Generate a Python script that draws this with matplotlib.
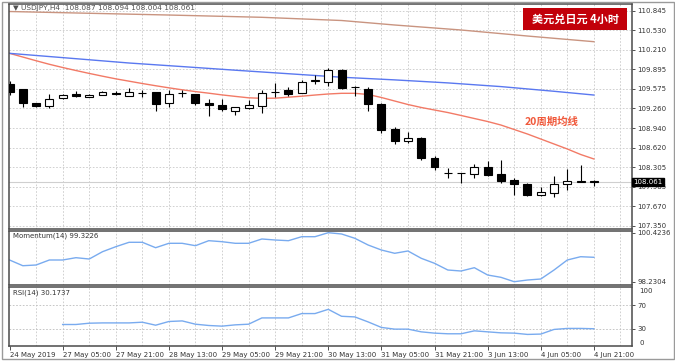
import matplotlib
matplotlib.use("Agg")
import matplotlib.pyplot as plt
from matplotlib.patches import Rectangle
import matplotlib.transforms as mtransforms
import numpy as np

plt.rcParams['font.family'] = ['DejaVu Sans']

# ---------------- data ----------------
opens = [109.65, 109.57, 109.34, 109.30, 109.42, 109.485, 109.45, 109.48, 109.515, 109.46,
         109.505, 109.52, 109.34, 109.505, 109.495, 109.34, 109.31, 109.22, 109.27, 109.30,
         109.525, 109.55, 109.515, 109.71, 109.69, 109.89, 109.605, 109.57, 109.33, 108.92,
         108.73, 108.775, 108.46, 108.205, 108.21, 108.19, 108.31, 108.19, 108.09, 108.035,
         107.85, 107.885, 108.025, 108.07, 108.087]
highs = [109.70, 109.58, 109.35, 109.495, 109.50, 109.54, 109.50, 109.535, 109.54, 109.59,
         109.55, 109.53, 109.56, 109.56, 109.50, 109.41, 109.41, 109.285, 109.40, 109.55,
         109.67, 109.61, 109.725, 109.80, 109.92, 109.90, 109.615, 109.60, 109.34, 108.96,
         108.875, 108.79, 108.48, 108.285, 108.215, 108.36, 108.405, 108.415, 108.13, 108.045,
         107.98, 108.155, 108.275, 108.34, 108.094]
lows = [109.48, 109.28, 109.28, 109.27, 109.41, 109.44, 109.44, 109.47, 109.47, 109.455,
        109.44, 109.21, 109.28, 109.44, 109.32, 109.14, 109.22, 109.15, 109.245, 109.18,
        109.44, 109.46, 109.51, 109.65, 109.615, 109.575, 109.46, 109.21, 108.865, 108.68,
        108.69, 108.42, 108.26, 108.13, 108.045, 108.13, 108.165, 108.045, 107.86, 107.83,
        107.84, 107.82, 107.94, 108.06, 108.004]
closes = [109.52, 109.34, 109.29, 109.41, 109.48, 109.465, 109.48, 109.52, 109.50, 109.52,
          109.51, 109.33, 109.495, 109.51, 109.35, 109.32, 109.245, 109.275, 109.32, 109.515,
          109.53, 109.495, 109.69, 109.715, 109.875, 109.59, 109.61, 109.33, 108.91, 108.73,
          108.785, 108.46, 108.30, 108.21, 108.205, 108.31, 108.18, 108.08, 108.035, 107.85,
          107.895, 108.025, 108.08, 108.075, 108.061]

ma20 = [110.153, 110.093, 110.033, 109.975, 109.923, 109.874, 109.827, 109.782, 109.739, 109.701,
        109.663, 109.627, 109.593, 109.561, 109.532, 109.506, 109.478, 109.454, 109.431, 109.423,
        109.425, 109.441, 109.457, 109.476, 109.493, 109.504, 109.504, 109.485, 109.436, 109.379,
        109.322, 109.274, 109.233, 109.192, 109.144, 109.095, 109.046, 108.989, 108.916, 108.843,
        108.762, 108.681, 108.600, 108.511, 108.438]

ma50_bars = [0, 5, 9, 13, 17, 21, 25, 29, 33, 37, 41, 44]
ma50 = [110.153, 110.066, 109.996, 109.938, 109.879, 109.822, 109.765, 109.722, 109.673, 109.613,
        109.537, 109.476]

ma100_bars = [0, 4, 12, 19, 25, 29, 34, 39, 44]
ma100 = [110.832, 110.813, 110.775, 110.738, 110.686, 110.613, 110.532, 110.434, 110.342]

momentum = [99.202, 98.946, 98.978, 99.202, 99.202, 99.305, 99.246, 99.573, 99.797, 99.994,
            99.994, 99.752, 99.949, 99.949, 99.842, 100.066, 100.021, 99.949, 99.949, 100.142,
            100.097, 100.066, 100.245, 100.245, 100.4236, 100.366, 100.173, 99.873, 99.649, 99.502,
            99.605, 99.278, 99.054, 98.754, 98.709, 98.857, 98.530, 98.427, 98.2304, 98.306,
            98.351, 98.754, 99.202, 99.349, 99.3226]

nan = float('nan')
rsi = [nan, nan, nan, nan, 37.4, 37.4, 39.6, 40.1, 40.1, 40.1,
       41.3, 36.2, 42.5, 43.5, 37.9, 35.7, 34.6, 36.8, 37.9, 48.6,
       48.6, 48.6, 56.0, 56.0, 63.2, 51.4, 50.3, 41.8, 32.4, 29.5,
       29.5, 24.9, 22.7, 21.6, 21.6, 26.6, 24.9, 23.2, 22.7, 20.5,
       21.1, 29.0, 30.7, 30.7, 30.17]

price_ticks = [110.845, 110.530, 110.210, 109.895, 109.575, 109.260, 108.940,
               108.620, 108.305, 107.985, 107.670, 107.350]
price_tick_labels = ["110.845", "110.530", "110.210", "109.895", "109.575", "109.260",
                     "108.940", "108.620", "108.305", "107.985", "107.670", "107.350"]

time_tick_bars = [0, 4, 8, 12, 16, 20, 24, 28, 32, 36, 40, 44]
time_tick_labels = ["24 May 2019", "27 May 05:00", "27 May 21:00", "28 May 13:00",
                    "29 May 05:00", "29 May 21:00", "30 May 13:00", "31 May 05:00",
                    "31 May 21:00", "3 Jun 13:00", "4 Jun 05:00", "4 Jun 21:00"]

last_price = 108.061
title_text = "\u25BC USDJPY,H4  108.087 108.094 108.004 108.061"
box_title = "美元兑日元 4小时"
ma_label = "20周期均线"

# ---------------- figure ----------------
W, H = 675, 361
fig = plt.figure(figsize=(W / 100, H / 100), dpi=100)
fig.patch.set_facecolor('white')

def fx(px):
    return px / W

def fy(py):
    return 1 - py / H

L, R = 9, 632
ax = fig.add_axes([fx(L), fy(229), fx(R - L), (229 - 4) / H])
axm = fig.add_axes([fx(L), fy(285), fx(R - L), (285 - 230.5) / H], sharex=ax)
axr = fig.add_axes([fx(L), fy(345.5), fx(R - L), (345.5 - 286.5) / H], sharex=ax)

n = len(opens)
x = np.arange(n)
spine_col = '#4a4a4a'
grid_col = '#c9c9c9'

for a in (ax, axm, axr):
    a.set_facecolor('white')
    for s in a.spines.values():
        s.set_color(spine_col)
        s.set_linewidth(1.1)
    a.yaxis.tick_right()
    a.tick_params(axis='y', length=2.5, width=0.6, colors='#333333', labelsize=5, pad=1.5)
    for b in range(2, 47, 2):
        a.axvline(b, color=grid_col, lw=0.6, ls=(0, (2, 2)), zorder=0)

ax.set_xlim(-0.04, 46.87)
ax.set_ylim(107.301, 110.954)

# horizontal grid
for p in price_ticks:
    ax.axhline(p, color=grid_col, lw=0.6, ls=(0, (2, 2)), zorder=0)
ax.set_yticks(price_ticks)
ax.set_yticklabels(price_tick_labels)

# bid line
ax.axhline(last_price, color='#cfcfcf', lw=0.8, zorder=1)

# moving averages
ax.plot(x, ma20, color='#f27a66', lw=1.0, zorder=2)
ax.plot(ma50_bars, ma50, color='#5a78f0', lw=1.0, zorder=2)
ax.plot(ma100_bars, ma100, color='#c99480', lw=1.0, zorder=2)

# candles
bw = 0.6
for i in range(n):
    o, h, l, c = opens[i], highs[i], lows[i], closes[i]
    ax.vlines(i, l, h, color='black', lw=0.8, zorder=3)
    bottom = min(o, c)
    height = max(abs(c - o), 0.004)
    fc = 'white' if c > o else 'black'
    ax.bar(i, height, width=bw, bottom=bottom, color=fc, edgecolor='black',
           linewidth=0.8, zorder=4)

# title text
ax.text(0.0065, 0.981, title_text, transform=ax.transAxes, fontsize=5.3,
        color='#505050', ha='left', va='center', zorder=6)

# last price label box
trans = mtransforms.blended_transform_factory(ax.transAxes, ax.transData)
ax.text(1.002, last_price, "108.061", transform=trans, fontsize=5, color='white',
        ha='left', va='center', zorder=10, clip_on=False,
        bbox=dict(boxstyle='square,pad=0.15', facecolor='black', edgecolor='black'))

# MA label
ax.text(38.8, 109.04, ma_label, fontsize=7.5, color='#f0583a', fontweight='bold',
        family=['Noto Sans CJK SC', 'DejaVu Sans'], ha='left', va='center', zorder=6)

# red title box
fig.patches.append(Rectangle((fx(523), fy(30)), fx(104), 22 / H, transform=fig.transFigure,
                             facecolor='#c2000a', edgecolor='none', zorder=5))
fig.text(fx(575), fy(19.5), box_title, fontsize=8, color='white', fontweight='bold',
         family=['Noto Sans CJK SC', 'DejaVu Sans'], ha='center', va='center', zorder=6)

# momentum panel
axm.plot(x, momentum, color='#79abef', lw=1.0)
axm.set_ylim(98.083, 100.522)
axm.set_yticks([100.4236, 98.2304])
axm.set_yticklabels(["100.4236", "98.2304"])
axm.text(0.0065, 0.9, "Momentum(14) 99.3226", transform=axm.transAxes, fontsize=5,
         color='#333333', ha='left', va='center')

# RSI panel
axr.plot(x, rsi, color='#79abef', lw=1.0)
axr.set_ylim(1.65, 102.07)
for lvl in (30, 70):
    axr.axhline(lvl, color='#bdbdbd', lw=0.6, ls=(0, (2, 2)), zorder=0)
axr.set_yticks([30, 70])
axr.set_yticklabels(["30", "70"])
axr.text(1.012, 0.92, "100", transform=axr.transAxes, fontsize=5, color='#333333',
         ha='left', va='center', clip_on=False)
axr.text(1.012, 0.04, "0", transform=axr.transAxes, fontsize=5, color='#333333',
         ha='left', va='center', clip_on=False)
axr.text(0.0065, 0.9, "RSI(14) 30.1737", transform=axr.transAxes, fontsize=5,
         color='#333333', ha='left', va='center')

# x axis
for a in (ax, axm):
    a.tick_params(axis='x', bottom=False, labelbottom=False)
axr.set_xticks(time_tick_bars)
axr.set_xticklabels(time_tick_labels, ha='left')
axr.tick_params(axis='x', length=3, width=0.6, colors='#333333', labelsize=5, pad=1.5)

# outer frame
fig.patches.append(Rectangle((fx(1.5), fy(359)), fx(672), 357.5 / H, transform=fig.transFigure,
                             facecolor='none', edgecolor='#9a9a9a', lw=1.0, zorder=0))

fig.savefig("out.png", dpi=100, facecolor='white')
